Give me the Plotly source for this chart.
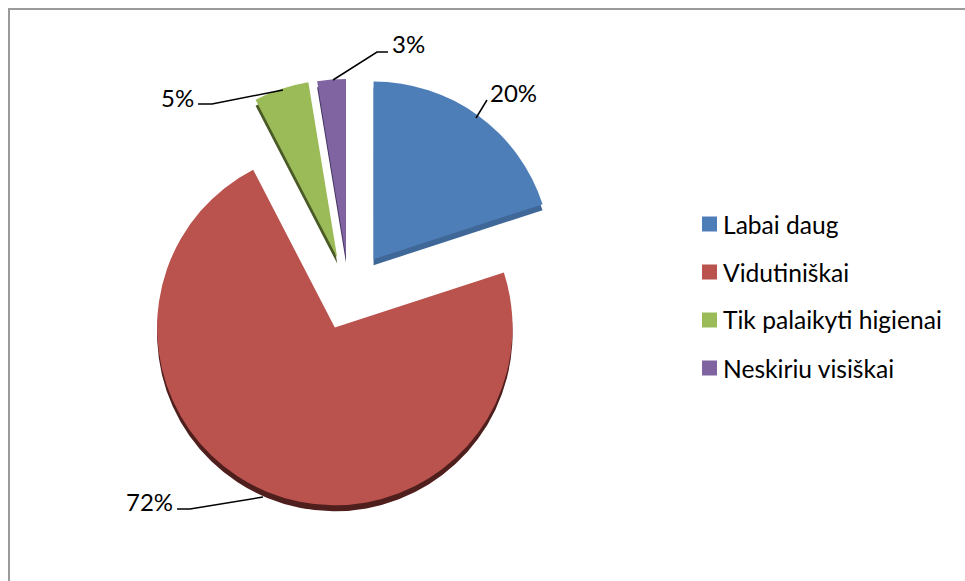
import plotly.graph_objects as go

W, H = 965, 581

labels = ["Labai daug", "Vidutiniškai", "Tik palaikyti higienai", "Neskiriu visiškai"]
# they round to the printed 20/72/5/3
values = [20, 72.4, 5, 2.6]
colors = ["#4E7EB8", "#BA524E", "#9BBB59", "#8064A2"]
side_colors = ["#3F6899", "#4F1F1D", "#4A5A26", "#43335F"]


def px_x(x):
    return x / W


def px_y(y):
    return 1 - y / H


def pie_trace(marker_colors, depth):
    # the pie is always round, so the 3D look is just a darker copy pushed down
    cx, cy, r = 349, 293, 219.5
    return go.Pie(
        labels=labels,
        values=values,
        sort=False,
        direction="clockwise",
        rotation=0,
        pull=[0.235, 0.21, 0.21, 0.205],
        marker=dict(colors=marker_colors, line=dict(width=0)),
        textinfo="none",
        hoverinfo="label+percent",
        showlegend=False,
        domain=dict(
            x=[px_x(cx - r), px_x(cx + r)],
            y=[px_y(cy + depth + r), px_y(cy + depth - r)],
        ),
    )


fig = go.Figure()
fig.add_trace(pie_trace(side_colors, 6))
fig.add_trace(pie_trace(colors, 0))

shapes = [
    dict(type="rect", xref="paper", yref="paper", x0=px_x(9), x1=px_x(1000),
         y0=px_y(700), y1=px_y(9), line=dict(color="#9A9A9A", width=2)),
]

# leader lines: start on the slice, elbow, end next to the label (same order as values)
leaders = [
    [(476, 118), (487, 100)],
    [(263, 497), (190, 509), (177, 509)],
    [(283, 90), (212, 104), (198, 104)],
    [(333, 80), (377, 52), (388, 52)],
]
for pts in leaders:
    path = "M " + " L ".join(f"{px_x(x)} {px_y(y)}" for x, y in pts)
    shapes.append(dict(type="path", xref="paper", yref="paper", path=path,
                       line=dict(color="black", width=1.5)))

annotations = []
label_pos = [(488, 92, "left"), (175, 501, "right"), (196, 97, "right"), (390, 44, "left")]
for v, (x, y, anchor) in zip(values, label_pos):
    annotations.append(dict(
        text=f"{round(v)}%", xref="paper", yref="paper", x=px_x(x), y=px_y(y),
        xanchor=anchor, yanchor="middle", showarrow=False,
        font=dict(family="Lato", size=24, color="black"),
    ))

# legend drawn by hand, plotly's own one can't space rows this far apart
legend_y = [224, 272, 320, 368]
for name, color, y in zip(labels, colors, legend_y):
    shapes.append(dict(type="rect", xref="paper", yref="paper",
                       x0=px_x(702), x1=px_x(717), y0=px_y(y + 7.5), y1=px_y(y - 7.5),
                       fillcolor=color, line=dict(width=0)))
    annotations.append(dict(
        text=name, xref="paper", yref="paper", x=px_x(721), y=px_y(y),
        xanchor="left", yanchor="middle", showarrow=False,
        font=dict(family="Lato", size=24.6, color="black"),
    ))

fig.update_layout(
    width=W,
    height=H,
    margin=dict(l=0, r=0, t=0, b=0),
    paper_bgcolor="white",
    shapes=shapes,
    annotations=annotations,
)

# default page margin would push the whole figure 8px right and down
fig.write_html("out.html", post_script="document.body.style.margin='0';",
               config=dict(displayModeBar=False))
